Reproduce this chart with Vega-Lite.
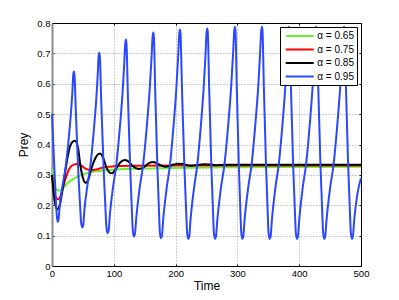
{
  "$schema": "https://vega.github.io/schema/vega-lite/v6.json",
  "width": 309,
  "height": 243,
  "autosize": {"type": "none"},
  "padding": {"left": 52, "top": 23, "right": 38, "bottom": 34},
  "background": "white",
  "config": {
    "font": "Liberation Sans",
    "view": {"stroke": null},
    "axis": {
      "labelFont": "Liberation Sans",
      "labelFontSize": 9.5,
      "labelColor": "#000",
      "titleFont": "Liberation Sans",
      "titleFontSize": 12,
      "titleFontWeight": "normal",
      "titleColor": "#000",
      "tickColor": "#000",
      "tickSize": -2,
      "domainColor": "#000",
      "gridColor": "#9a9a9a",
      "gridDash": [1, 2],
      "gridWidth": 1
    },
    "legend": {
      "labelFont": "Liberation Sans",
      "labelFontSize": 10,
      "labelColor": "#000",
      "strokeColor": "#000",
      "fillColor": "white"
    }
  },
  "data": {
    "values": [
      {"a":0.65,"t":0,"v":0.32},{"a":0.65,"t":3,"v":0.275},{"a":0.65,"t":7,"v":0.252},{"a":0.65,"t":11.3,"v":0.248},{"a":0.65,"t":15,"v":0.252},{"a":0.65,"t":20,"v":0.261},{"a":0.65,"t":26,"v":0.274},{"a":0.65,"t":34,"v":0.286},{"a":0.65,"t":42,"v":0.295},{"a":0.65,"t":55,"v":0.305},{"a":0.65,"t":75,"v":0.313},{"a":0.65,"t":100,"v":0.317},{"a":0.65,"t":150,"v":0.321},{"a":0.65,"t":200,"v":0.323},{"a":0.65,"t":300,"v":0.325},{"a":0.65,"t":400,"v":0.326},{"a":0.65,"t":500,"v":0.327},
      {"a":0.75,"t":0,"v":0.3},{"a":0.75,"t":3,"v":0.25},{"a":0.75,"t":6,"v":0.226},{"a":0.75,"t":10.2,"v":0.22},{"a":0.75,"t":14,"v":0.232},{"a":0.75,"t":18,"v":0.26},{"a":0.75,"t":23,"v":0.295},{"a":0.75,"t":28,"v":0.32},{"a":0.75,"t":34,"v":0.333},{"a":0.75,"t":41,"v":0.336},{"a":0.75,"t":48,"v":0.33},{"a":0.75,"t":55,"v":0.32},{"a":0.75,"t":64,"v":0.316},{"a":0.75,"t":72,"v":0.318},{"a":0.75,"t":85,"v":0.325},{"a":0.75,"t":100,"v":0.328},{"a":0.75,"t":130,"v":0.33},{"a":0.75,"t":200,"v":0.331},{"a":0.75,"t":500,"v":0.331},
      {"a":0.85,"t":0,"v":0.3},{"a":0.85,"t":3,"v":0.235},{"a":0.85,"t":6,"v":0.197},{"a":0.85,"t":9.2,"v":0.187},{"a":0.85,"t":13,"v":0.205},{"a":0.85,"t":17,"v":0.25},{"a":0.85,"t":21,"v":0.305},{"a":0.85,"t":25,"v":0.355},{"a":0.85,"t":29,"v":0.393},{"a":0.85,"t":33,"v":0.408},{"a":0.85,"t":37,"v":0.412},{"a":0.85,"t":42,"v":0.39},{"a":0.85,"t":46,"v":0.33},{"a":0.85,"t":50,"v":0.29},{"a":0.85,"t":54.5,"v":0.274},{"a":0.85,"t":59,"v":0.285},{"a":0.85,"t":63,"v":0.315},{"a":0.85,"t":67,"v":0.34},{"a":0.85,"t":72,"v":0.362},{"a":0.85,"t":77.7,"v":0.37},{"a":0.85,"t":83,"v":0.355},{"a":0.85,"t":88,"v":0.325},{"a":0.85,"t":93,"v":0.308},{"a":0.85,"t":97,"v":0.305},{"a":0.85,"t":103,"v":0.318},{"a":0.85,"t":110,"v":0.34},{"a":0.85,"t":118,"v":0.349},{"a":0.85,"t":125,"v":0.342},{"a":0.85,"t":131,"v":0.328},{"a":0.85,"t":140,"v":0.319},{"a":0.85,"t":149,"v":0.326},{"a":0.85,"t":155,"v":0.336},{"a":0.85,"t":162,"v":0.342},{"a":0.85,"t":170,"v":0.338},{"a":0.85,"t":176,"v":0.331},{"a":0.85,"t":183,"v":0.327},{"a":0.85,"t":190,"v":0.329},{"a":0.85,"t":197,"v":0.334},{"a":0.85,"t":204,"v":0.337},{"a":0.85,"t":212,"v":0.336},{"a":0.85,"t":219,"v":0.332},{"a":0.85,"t":226,"v":0.33},{"a":0.85,"t":235,"v":0.332},{"a":0.85,"t":245,"v":0.335},{"a":0.85,"t":255,"v":0.334},{"a":0.85,"t":265,"v":0.332},{"a":0.85,"t":280,"v":0.333},{"a":0.85,"t":350,"v":0.333},{"a":0.85,"t":500,"v":0.333},
      {"a":0.95,"t":0,"v":0.5},{"a":0.95,"t":3,"v":0.36},{"a":0.95,"t":6,"v":0.225},{"a":0.95,"t":7.8,"v":0.165},{"a":0.95,"t":9.2,"v":0.145},{"a":0.95,"t":10.6,"v":0.153},{"a":0.95,"t":12.2,"v":0.189},{"a":0.95,"t":17.25,"v":0.267},{"a":0.95,"t":21.5,"v":0.317},{"a":0.95,"t":27.2,"v":0.423},{"a":0.95,"t":30.5,"v":0.5},{"a":0.95,"t":33.1,"v":0.578},{"a":0.95,"t":34.4,"v":0.63},{"a":0.95,"t":35.6,"v":0.64},{"a":0.95,"t":36.5,"v":0.626},
      {"a":0.95,"t":38.8,"v":0.495},{"a":0.95,"t":42.6,"v":0.306},{"a":0.95,"t":45.3,"v":0.205},{"a":0.95,"t":47.2,"v":0.141},{"a":0.95,"t":49.1,"v":0.127},{"a":0.95,"t":50.6,"v":0.135},{"a":0.95,"t":52.2,"v":0.178},{"a":0.95,"t":57.5,"v":0.268},{"a":0.95,"t":61.9,"v":0.327},{"a":0.95,"t":67.8,"v":0.45},{"a":0.95,"t":71.3,"v":0.539},{"a":0.95,"t":74,"v":0.63},{"a":0.95,"t":75.4,"v":0.69},{"a":0.95,"t":76.6,"v":0.702},{"a":0.95,"t":77.5,"v":0.687},
      {"a":0.95,"t":79.8,"v":0.534},{"a":0.95,"t":83.65,"v":0.315},{"a":0.95,"t":86.3,"v":0.198},{"a":0.95,"t":88.2,"v":0.124},{"a":0.95,"t":90.1,"v":0.108},{"a":0.95,"t":91.6,"v":0.116},{"a":0.95,"t":93.5,"v":0.165},{"a":0.95,"t":99.1,"v":0.265},{"a":0.95,"t":103.9,"v":0.33},{"a":0.95,"t":110.2,"v":0.466},{"a":0.95,"t":114,"v":0.565},{"a":0.95,"t":116.9,"v":0.666},{"a":0.95,"t":118.5,"v":0.733},{"a":0.95,"t":119.7,"v":0.746},{"a":0.95,"t":120.6,"v":0.731},
      {"a":0.95,"t":122.8,"v":0.562},{"a":0.95,"t":126.5,"v":0.323},{"a":0.95,"t":129,"v":0.196},{"a":0.95,"t":130.85,"v":0.115},{"a":0.95,"t":132.7,"v":0.097},{"a":0.95,"t":134.2,"v":0.105},{"a":0.95,"t":136.3,"v":0.157},{"a":0.95,"t":142.2,"v":0.262},{"a":0.95,"t":147.3,"v":0.331},{"a":0.95,"t":154,"v":0.474},{"a":0.95,"t":158,"v":0.579},{"a":0.95,"t":161,"v":0.684},{"a":0.95,"t":162.8,"v":0.756},{"a":0.95,"t":164,"v":0.769},{"a":0.95,"t":164.9,"v":0.754},
      {"a":0.95,"t":167,"v":0.577},{"a":0.95,"t":170.5,"v":0.327},{"a":0.95,"t":172.9,"v":0.194},{"a":0.95,"t":174.6,"v":0.109},{"a":0.95,"t":176.4,"v":0.091},{"a":0.95,"t":177.9,"v":0.099},{"a":0.95,"t":179.9,"v":0.152},{"a":0.95,"t":185.8,"v":0.26},{"a":0.95,"t":190.7,"v":0.33},{"a":0.95,"t":197.3,"v":0.477},{"a":0.95,"t":201.2,"v":0.584},{"a":0.95,"t":204.2,"v":0.692},{"a":0.95,"t":205.9,"v":0.766},{"a":0.95,"t":207.1,"v":0.779},{"a":0.95,"t":208,"v":0.764},
      {"a":0.95,"t":210.3,"v":0.584},{"a":0.95,"t":214.15,"v":0.329},{"a":0.95,"t":216.8,"v":0.194},{"a":0.95,"t":218.7,"v":0.108},{"a":0.95,"t":220.6,"v":0.089},{"a":0.95,"t":222.1,"v":0.097},{"a":0.95,"t":224.1,"v":0.151},{"a":0.95,"t":230,"v":0.259},{"a":0.95,"t":234.9,"v":0.33},{"a":0.95,"t":241.5,"v":0.478},{"a":0.95,"t":245.4,"v":0.586},{"a":0.95,"t":248.4,"v":0.695},{"a":0.95,"t":250.1,"v":0.769},{"a":0.95,"t":251.3,"v":0.782},{"a":0.95,"t":252.2,"v":0.767},
      {"a":0.95,"t":254.3,"v":0.586},{"a":0.95,"t":257.8,"v":0.33},{"a":0.95,"t":260.3,"v":0.194},{"a":0.95,"t":262,"v":0.108},{"a":0.95,"t":263.8,"v":0.089},{"a":0.95,"t":265.3,"v":0.097},{"a":0.95,"t":267.5,"v":0.151},{"a":0.95,"t":273.65,"v":0.261},{"a":0.95,"t":278.9,"v":0.332},{"a":0.95,"t":285.8,"v":0.481},{"a":0.95,"t":289.9,"v":0.59},{"a":0.95,"t":293,"v":0.7},{"a":0.95,"t":294.9,"v":0.775},{"a":0.95,"t":296.1,"v":0.788},{"a":0.95,"t":297,"v":0.772},
      {"a":0.95,"t":298.95,"v":0.59},{"a":0.95,"t":302.3,"v":0.332},{"a":0.95,"t":304.6,"v":0.195},{"a":0.95,"t":306.3,"v":0.108},{"a":0.95,"t":308,"v":0.089},{"a":0.95,"t":309.5,"v":0.097},{"a":0.95,"t":311.6,"v":0.151},{"a":0.95,"t":317.7,"v":0.261},{"a":0.95,"t":322.85,"v":0.332},{"a":0.95,"t":329.6,"v":0.481},{"a":0.95,"t":333.7,"v":0.59},{"a":0.95,"t":336.7,"v":0.7},{"a":0.95,"t":338.6,"v":0.775},{"a":0.95,"t":339.8,"v":0.788},{"a":0.95,"t":340.7,"v":0.772},
      {"a":0.95,"t":342.8,"v":0.59},{"a":0.95,"t":346.3,"v":0.332},{"a":0.95,"t":348.7,"v":0.195},{"a":0.95,"t":350.4,"v":0.108},{"a":0.95,"t":352.2,"v":0.089},{"a":0.95,"t":353.7,"v":0.097},{"a":0.95,"t":355.8,"v":0.151},{"a":0.95,"t":361.7,"v":0.261},{"a":0.95,"t":366.8,"v":0.332},{"a":0.95,"t":373.5,"v":0.481},{"a":0.95,"t":377.5,"v":0.59},{"a":0.95,"t":380.5,"v":0.7},{"a":0.95,"t":382.3,"v":0.775},{"a":0.95,"t":383.5,"v":0.788},{"a":0.95,"t":384.4,"v":0.772},
      {"a":0.95,"t":386.6,"v":0.59},{"a":0.95,"t":390.2,"v":0.332},{"a":0.95,"t":392.75,"v":0.195},{"a":0.95,"t":394.6,"v":0.108},{"a":0.95,"t":396.4,"v":0.089},{"a":0.95,"t":397.9,"v":0.097},{"a":0.95,"t":400,"v":0.151},{"a":0.95,"t":405.9,"v":0.261},{"a":0.95,"t":411,"v":0.332},{"a":0.95,"t":417.7,"v":0.481},{"a":0.95,"t":421.7,"v":0.59},{"a":0.95,"t":424.7,"v":0.7},{"a":0.95,"t":426.5,"v":0.775},{"a":0.95,"t":427.7,"v":0.788},{"a":0.95,"t":428.6,"v":0.772},
      {"a":0.95,"t":430.8,"v":0.59},{"a":0.95,"t":434.4,"v":0.332},{"a":0.95,"t":436.95,"v":0.195},{"a":0.95,"t":438.8,"v":0.108},{"a":0.95,"t":440.6,"v":0.089},{"a":0.95,"t":442.1,"v":0.097},{"a":0.95,"t":444.2,"v":0.151},{"a":0.95,"t":450.3,"v":0.261},{"a":0.95,"t":455.5,"v":0.332},{"a":0.95,"t":462.3,"v":0.481},{"a":0.95,"t":466.4,"v":0.59},{"a":0.95,"t":469.4,"v":0.7},{"a":0.95,"t":471.3,"v":0.775},{"a":0.95,"t":472.5,"v":0.788},{"a":0.95,"t":473.4,"v":0.772},
      {"a":0.95,"t":475.6,"v":0.59},{"a":0.95,"t":479.2,"v":0.332},{"a":0.95,"t":481.75,"v":0.195},{"a":0.95,"t":483.6,"v":0.108},{"a":0.95,"t":485.4,"v":0.089},{"a":0.95,"t":486.9,"v":0.097},{"a":0.95,"t":489,"v":0.151},{"a":0.95,"t":494,"v":0.235},{"a":0.95,"t":500,"v":0.29}
    ]
  },
  "layer": [
    {
      "mark": {"type": "line", "interpolate": "monotone", "strokeWidth": 2},
      "encoding": {
        "x": {
          "field": "t", "type": "quantitative",
          "scale": {"domain": [0, 500], "nice": false},
          "axis": {"orient": "bottom", "title": "Time", "values": [0, 100, 200, 300, 400, 500], "grid": true, "labelPadding": 4, "titlePadding": 3, "labelFlush": false}
        },
        "y": {
          "field": "v", "type": "quantitative",
          "scale": {"domain": [0, 0.8], "nice": false},
          "axis": {"orient": "left", "title": "Prey", "values": [0, 0.1, 0.2, 0.3, 0.4, 0.5, 0.6, 0.7, 0.8], "format": ".1~f", "grid": true, "domainColor": "#8a8a8a", "domainWidth": 2, "labelPadding": 4, "titlePadding": 6, "labelFlush": false}
        },
        "color": {
          "field": "a", "type": "nominal",
          "scale": {"domain": [0.65, 0.75, 0.85, 0.95], "range": ["#66f233", "#ff0000", "#000000", "#2b48ff"]},
          "legend": {
            "title": null,
            "orient": "top-right",
            "offset": 4,
            "padding": 3,
            "cornerRadius": 0,
            "symbolType": "M-2.8,0H2.8",
            "symbolSize": 100,
            "symbolStrokeWidth": 2,
            "symbolOffset": 10.7,
            "labelOffset": 11.6,
            "rowPadding": 2.5,
            "labelExpr": "'α = ' + datum.label"
          }
        }
      }
    },
    {
      "mark": {"type": "line", "strokeOpacity": 0},
      "encoding": {
        "x": {"field": "t", "type": "quantitative", "axis": {"orient": "top", "title": null, "labels": false, "grid": false, "values": [0, 100, 200, 300, 400, 500]}},
        "y": {"field": "v", "type": "quantitative", "axis": {"orient": "right", "title": null, "labels": false, "grid": false, "values": [0, 0.1, 0.2, 0.3, 0.4, 0.5, 0.6, 0.7, 0.8]}},
        "detail": {"field": "a", "type": "nominal"}
      }
    }
  ],
  "resolve": {"axis": {"x": "independent", "y": "independent"}}
}
